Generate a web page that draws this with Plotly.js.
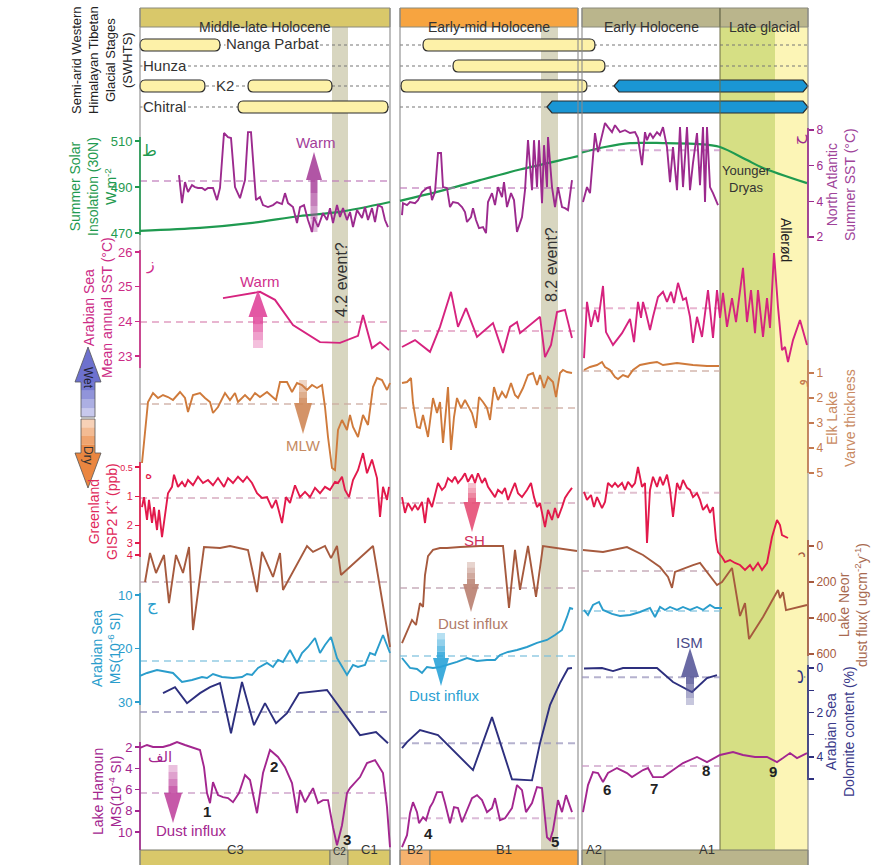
<!DOCTYPE html>
<html><head><meta charset="utf-8">
<script src="https://cdn.plot.ly/plotly-3.0.1.min.js"></script>
<style>html,body{margin:0;padding:0;background:#fff;}#chart{width:872px;height:865px;}</style>
</head><body><div id="chart"></div>
<script>
// ---------------- DATA (age in ka BP) ----------------
const periodNames = ['Middle-late Holocene','Early-mid Holocene','Early Holocene','Late glacial'];
const periodStart = [0.2, 5.4, 9.04, 11.8];
const periodEnd   = [5.2, 8.96, 11.8, 13.56];
const zoneNames = ['C3','C2','C1','B2','B1','A2','A1'];
const zoneStart = [0.2, 4.0, 4.36, 5.4, 6.0, 9.04, 9.5];
const zoneEnd   = [4.0, 4.36, 5.2, 6.0, 8.96, 9.5, 13.56];
const eventStart = [4.04, 8.22, 11.8, 12.9];
const eventEnd   = [4.36, 8.56, 12.9, 13.56];
const boxStart = [0.2, 5.4, 9.04];
const boxEnd   = [5.2, 8.96, 11.8];

const stageNames = ['Nanga Parbat','Hunza','K2','Chitral'];
const stageStart = [[0.2,5.86],[6.46],[0.2,2.36,5.42,9.68],[2.16,8.34]];
const stageEnd   = [[1.8,9.3],[9.5],[1.5,4.04,9.14,13.56],[5.16,13.56]];
const stageKind  = [['y','y'],['y'],['y','y','y','b'],['y','b']];

// Summer solar insolation 30N (W m-2)
const inAge1 = [0.2,1.4,2.4,3.4,4.2,5.2];
const inVal1 = [470.9,472.2,474.3,477.4,479.2,483.5];
const inAge2 = [5.4,6.2,7.0,7.8,8.8,8.96];
const inVal2 = [484.0,488.2,493.0,497.6,502.6,503.4];
const inAge3 = [9.04,9.5,10.0,10.66,11.34,11.8,12.34,12.66,13.54];
const inVal3 = [505.0,507.4,509.1,509.1,508.7,507.4,501.7,498.3,491.7];

// North Atlantic summer SST (°C)
const naAge1 = [0.98,1.04,1.10,1.16,1.24,1.30,1.36,1.44,1.50,1.56,1.66,1.74,1.80,1.88,1.96,2.02,2.10,2.20,2.30,2.36,2.42,2.52,2.60,2.66,2.76,2.86,2.94,3.04,3.10,3.16,3.26,3.34,3.40,3.48,3.56,3.64,3.68,3.76,3.86,3.94,4.00,4.06,4.14,4.20,4.26,4.34,4.40,4.46,4.54,4.64,4.70,4.76,4.84,4.90,4.96,5.04,5.10,5.16];
const naVal1 = [5.47,3.90,5.08,4.52,4.91,4.80,4.75,4.75,4.63,4.75,4.75,4.07,4.75,7.83,7.60,7.55,4.80,4.18,5.19,7.88,7.88,4.07,4.24,3.79,3.68,3.79,3.96,3.85,4.46,3.90,3.68,2.78,3.68,3.79,2.95,2.28,3.12,2.56,3.34,2.95,3.62,2.78,3.79,3.12,3.62,2.95,3.40,2.56,3.51,3.06,3.68,2.95,3.62,2.84,3.79,3.68,2.95,2.56];
const naAge2 = [5.44,5.46,5.54,5.60,5.70,5.76,5.84,5.94,6.00,6.04,6.10,6.16,6.22,6.26,6.34,6.40,6.46,6.56,6.64,6.70,6.74,6.82,6.86,6.92,6.98,7.06,7.12,7.16,7.24,7.30,7.36,7.44,7.48,7.54,7.62,7.68,7.74,7.84,7.90,7.96,8.04,8.08,8.14,8.18,8.24,8.28,8.34,8.36,8.44,8.50,8.56,8.64,8.70,8.76,8.84];
const naVal2 = [3.23,3.90,3.79,3.96,3.90,4.07,4.52,4.75,4.80,4.07,4.52,6.71,6.71,4.80,4.75,3.68,3.96,3.90,3.68,3.40,2.84,3.12,3.62,2.95,2.50,2.56,2.22,3.96,4.46,3.79,4.80,4.24,5.08,3.68,4.46,4.07,2.28,3.12,4.63,7.43,4.63,7.43,4.80,7.43,3.90,7.15,4.80,7.60,4.80,3.68,4.80,3.68,3.62,3.51,5.19];
const naAge3 = [9.06,9.14,9.20,9.26,9.30,9.36,9.44,9.50,9.56,9.64,9.70,9.80,9.90,10.00,10.10,10.16,10.24,10.30,10.34,10.40,10.46,10.54,10.60,10.66,10.74,10.80,10.86,10.94,11.00,11.06,11.14,11.20,11.26,11.34,11.40,11.46,11.50,11.54,11.60,11.66,11.76];
const naVal3 = [3.96,4.80,4.46,6.76,7.83,6.76,7.71,8.39,8.16,7.88,8.27,7.88,7.99,7.83,7.88,7.55,6.03,7.88,7.43,7.83,7.55,7.88,7.71,8.16,7.04,5.08,7.04,4.63,8.16,4.80,8.16,4.63,6.15,7.83,4.91,8.16,3.96,8.16,4.80,4.46,3.79];
const naMean = [5.14,4.75,6.87];

// Arabian Sea mean annual SST (°C)
const asAge1 = [1.86,2.60,2.90,3.26,3.80,4.20,4.56,4.66,4.84,5.00,5.18];
const asVal1 = [24.67,24.85,24.62,23.89,23.40,23.38,23.58,24.18,23.23,23.40,23.17];
const asAge2 = [5.44,5.70,6.00,6.20,6.42,6.56,6.72,6.94,7.10,7.26,7.46,7.60,7.74,7.80,8.20,8.30,8.42,8.54,8.70,8.84];
const asVal2 = [23.26,23.46,23.12,23.84,24.85,23.84,24.38,23.55,23.75,23.95,23.09,23.84,23.98,23.66,24.13,22.97,23.32,24.27,24.33,23.52];
const asAge3 = [9.08,9.14,9.22,9.30,9.36,9.46,9.52,9.66,9.84,10.00,10.08,10.16,10.22,10.26,10.32,10.40,10.46,10.56,10.66,10.74,10.82,10.88,10.96,11.06,11.12,11.20,11.26,11.34,11.44,11.56,11.66,11.74,11.80,11.86,11.94,12.04,12.12,12.26,12.34,12.42,12.50,12.56,12.66,12.74,12.80,12.88,12.96,13.04,13.10,13.16,13.26,13.40,13.54];
const asVal3 = [22.94,24.56,23.84,24.33,23.98,25.02,23.69,23.32,23.66,24.07,23.40,24.56,24.10,24.56,24.24,23.75,24.13,24.70,24.85,24.56,24.85,24.53,25.11,24.62,24.67,24.13,23.38,24.13,23.55,24.90,23.52,24.90,24.10,24.82,23.84,24.67,23.98,25.54,23.98,24.90,23.66,24.90,23.55,24.67,23.81,25.97,24.41,23.17,23.26,22.83,23.46,24.04,23.32];
const asMean = [23.98,23.72,24.38];

// Elk Lake varve thickness
const elkAge1 = [0.24,0.36,0.46,0.56,0.66,0.76,0.86,1.00,1.10,1.16,1.26,1.40,1.50,1.60,1.66,1.76,1.90,2.00,2.10,2.16,2.30,2.40,2.50,2.60,2.74,2.84,2.92,3.00,3.14,3.24,3.34,3.44,3.54,3.64,3.74,3.84,3.90,3.96,4.04,4.10,4.16,4.24,4.34,4.40,4.46,4.56,4.66,4.76,4.86,4.94,5.04,5.14,5.20];
const elkVal1 = [4.60,2.16,1.80,2.00,1.88,1.96,2.08,1.76,2.00,2.56,1.88,1.80,2.00,2.16,2.60,2.36,1.80,2.08,1.80,2.16,1.88,2.08,1.80,1.96,1.76,1.96,2.08,1.36,1.36,1.76,1.40,1.48,1.68,1.48,1.60,1.48,2.36,3.56,4.80,4.88,3.28,2.88,3.28,2.68,3.16,3.56,2.68,3.08,1.56,1.20,1.28,1.68,1.40];
const elkAge2 = [5.44,5.54,5.62,5.66,5.74,5.80,5.86,5.96,6.06,6.14,6.20,6.26,6.32,6.36,6.42,6.48,6.54,6.62,6.70,6.76,6.84,6.92,6.98,7.06,7.14,7.20,7.28,7.36,7.44,7.52,7.62,7.70,7.76,7.86,7.96,8.06,8.14,8.20,8.28,8.36,8.46,8.52,8.60,8.66,8.74,8.84];
const elkVal2 = [1.40,1.36,1.20,2.20,3.16,3.20,2.68,3.56,2.00,2.60,2.16,3.80,2.48,1.56,4.08,2.76,2.00,2.40,2.08,2.28,2.60,3.20,1.96,2.16,2.40,2.88,1.56,2.08,1.76,2.00,1.40,1.88,2.00,1.60,1.08,1.00,1.48,1.08,1.60,1.16,1.36,1.96,1.00,0.88,0.96,1.00];
const elkAge3 = [9.08,9.20,9.34,9.44,9.50,9.60,9.70,9.76,9.86,9.96,10.06,10.20,10.40,10.54,10.66,10.94,11.26,11.54,11.78];
const elkVal3 = [0.88,0.76,0.68,0.56,0.76,0.88,1.16,1.24,1.08,1.16,0.88,0.68,0.60,0.56,0.68,0.60,0.68,0.72,0.72];
const elkMean = [2.24,2.40,0.92];

// Greenland GISP2 K+ (ppb)
const grAge1 = [0.24,0.28,0.34,0.38,0.44,0.48,0.54,0.58,0.64,0.70,0.76,0.84,0.88,0.96,1.04,1.10,1.16,1.26,1.36,1.46,1.56,1.66,1.76,1.88,1.96,2.06,2.16,2.26,2.34,2.44,2.54,2.64,2.74,2.84,2.92,3.04,3.12,3.20,3.30,3.40,3.50,3.60,3.70,3.80,3.90,4.00,4.10,4.16,4.24,4.30,4.38,4.46,4.56,4.66,4.74,4.84,4.94,5.00,5.06,5.14,5.18];
const grVal1 = [1.29,1.02,1.75,1.09,1.88,1.29,2.22,1.38,2.62,1.63,0.93,0.80,0.60,0.80,0.71,0.80,0.68,0.77,0.63,0.73,0.68,0.77,0.65,0.80,0.65,0.73,0.63,0.71,0.63,0.73,0.93,1.04,1.02,1.32,1.09,1.88,1.02,1.17,0.77,1.02,0.90,1.02,0.82,0.93,0.80,0.86,0.71,0.73,0.63,0.86,1.02,0.68,0.54,0.36,0.58,0.42,0.65,1.63,0.80,1.09,0.80];
const grAge2 = [5.44,5.50,5.56,5.64,5.70,5.76,5.84,5.90,5.96,6.04,6.10,6.16,6.24,6.30,6.36,6.44,6.50,6.56,6.64,6.70,6.76,6.84,6.90,6.96,7.04,7.10,7.16,7.24,7.30,7.36,7.44,7.50,7.56,7.64,7.70,7.76,7.84,7.94,8.02,8.08,8.14,8.20,8.26,8.30,8.36,8.44,8.50,8.56,8.64,8.70,8.76,8.84];
const grVal2 = [1.02,1.48,1.17,1.38,1.23,1.38,1.14,1.88,1.04,1.29,0.97,0.73,0.86,0.80,0.65,0.71,0.63,0.73,0.65,0.58,0.71,0.60,0.73,0.58,0.73,0.65,0.80,0.93,1.02,0.86,0.93,0.82,1.09,0.86,0.73,0.93,1.02,0.86,0.73,1.02,1.29,1.17,1.63,2.07,1.38,1.75,1.32,1.67,1.29,1.04,0.93,0.82];
const grAge3 = [9.08,9.14,9.22,9.28,9.34,9.44,9.50,9.56,9.64,9.70,9.76,9.84,9.90,9.96,10.04,10.10,10.16,10.24,10.30,10.34,10.40,10.46,10.54,10.60,10.66,10.74,10.80,10.86,10.94,11.00,11.06,11.14,11.20,11.26,11.34,11.40,11.46,11.54,11.60,11.66,11.72,11.76,11.84,11.90,12.00,12.10,12.20,12.30,12.40,12.46,12.56,12.64,12.74,12.84,12.94,13.00,13.04,13.16];
const grVal3 = [0.90,1.09,0.97,1.29,1.02,1.32,1.14,0.73,0.80,0.73,0.80,0.73,0.86,0.71,0.80,0.73,0.50,0.80,0.73,3.02,0.86,0.63,0.80,0.63,0.77,0.60,0.86,1.63,0.73,0.86,0.68,0.82,0.86,1.02,0.93,1.09,1.38,1.23,1.48,1.29,2.81,3.73,4.20,4.73,4.51,4.84,5.07,5.71,5.07,5.71,4.84,5.71,4.84,2.62,1.75,1.97,2.50,2.68];
const grMean = [1.04,1.17,0.92];

// Lake Neor dust flux
const neAge1 = [0.30,0.40,0.52,0.68,0.78,0.92,1.06,1.18,1.26,1.48,1.80,2.00,2.36,2.54,2.64,2.86,3.00,3.06,3.54,3.66,3.90,4.02,4.14,4.22,4.86,5.20];
const neVal1 = [200,39,150,50,317,50,150,6,467,6,11,0,22,256,33,172,39,244,0,33,0,67,0,161,0,561];
const neAge2 = [5.44,5.54,5.64,5.72,5.80,5.86,5.90,5.96,6.06,6.20,6.34,6.60,7.00,7.46,7.58,7.70,7.80,7.96,8.12,8.26,8.52,8.80,8.94];
const neVal2 = [539,478,411,439,317,339,161,56,22,11,11,6,0,0,344,22,244,0,283,0,11,22,28];
const neAge3 = [9.06,9.46,9.94,10.26,10.60,10.76,10.84,10.90,11.26,11.40,11.74,11.84,12.04,12.20,12.30,12.38,12.66,12.96,13.00,13.06,13.12,13.54];
const neVal3 = [22,33,6,50,117,172,233,144,106,94,217,200,122,389,317,517,394,244,289,256,356,328];
const neMean = [200,233,139];

// Arabian Sea MS (10^-6 SI)
const msAge1 = [0.20,0.34,0.54,0.74,0.86,1.04,1.24,1.44,1.54,1.66,1.84,2.06,2.24,2.34,2.44,2.56,2.74,2.86,2.96,3.06,3.20,3.34,3.44,3.56,3.70,3.80,3.90,4.02,4.14,4.34,4.46,4.56,4.70,4.80,4.90,5.06,5.20];
const msVal1 = [25.14,24.58,24.02,24.39,24.58,26.26,25.89,25.33,25.51,24.77,25.33,25.51,25.33,24.77,24.95,23.64,22.71,23.46,22.15,22.52,20.28,22.71,20.84,19.72,18.04,20.84,19.35,17.85,21.78,24.95,23.08,23.46,23.08,20.84,21.21,17.48,20.84];
const msAge2 = [5.44,5.60,5.74,5.84,5.94,6.06,6.20,6.34,6.54,6.74,6.94,7.14,7.30,7.40,7.56,7.74,7.94,8.14,8.34,8.50,8.64,8.74,8.80,8.86];
const msVal2 = [21.78,23.64,23.83,24.58,23.46,23.64,23.46,23.08,22.52,21.78,22.34,22.15,22.15,21.21,20.65,20.28,19.72,18.97,18.41,17.48,16.54,14.11,12.43,12.62];
const msAge3 = [9.08,9.16,9.26,9.38,9.46,9.64,9.80,10.00,10.20,10.40,10.50,10.60,10.70,10.80,10.94,11.06,11.20,11.34,11.46,11.60,11.70,11.84];
const msVal3 = [12.80,13.74,11.87,11.31,12.80,13.55,13.93,13.74,13.18,12.43,14.11,12.24,12.80,12.24,12.80,12.24,12.80,12.24,12.80,11.87,12.43,12.43];
const msMean = [22.34,21.40,12.99];

// Arabian Sea dolomite content (%)
const doAge1 = [0.66,0.90,1.14,1.40,1.60,1.80,2.02,2.24,2.48,2.70,2.92,3.14,3.38,3.94,4.60,4.92,5.16];
const doVal1 = [1.13,0.86,1.58,1.13,0.86,0.68,2.93,0.63,2.57,1.58,2.48,2.03,1.13,0.99,3.02,2.88,3.38];
const doAge2 = [5.44,5.54,5.80,6.16,6.86,7.24,7.64,8.04,8.20,8.40,8.60,8.76,8.84];
const doVal2 = [3.60,3.33,2.79,3.02,4.59,2.21,5.00,5.05,3.38,1.67,0.68,0.02,0.00];
const doAge3 = [9.08,9.44,9.66,9.86,10.54,10.86,11.24,11.54,11.74];
const doVal3 = [0.02,0.00,0.14,0.00,0.00,0.63,1.08,0.45,0.32];
const doMean = [1.98,3.38,0.41];

// Lake Hamoun MS (10^-4 SI)
const haAge1 = [0.20,0.34,0.46,0.66,0.80,0.94,1.10,1.26,1.40,1.48,1.54,1.60,1.66,1.76,1.86,1.96,2.06,2.18,2.30,2.40,2.54,2.66,2.80,2.96,3.10,3.24,3.34,3.40,3.50,3.66,3.76,3.86,3.96,4.06,4.14,4.24,4.34,4.40,4.60,4.74,4.90,5.06,5.14,5.20];
const haVal1 = [2.09,1.81,2.00,2.00,1.81,1.53,1.81,2.09,2.28,3.89,6.34,7.28,5.30,6.53,6.72,6.81,7.19,6.34,4.64,5.11,8.23,4.45,2.28,2.94,3.89,5.40,8.23,6.06,7.19,5.87,7.28,7.00,7.00,9.55,11.25,9.36,6.34,5.87,4.83,3.51,3.23,4.45,7.66,11.43];
const haAge2 = [5.44,5.54,5.60,5.66,5.74,5.78,5.86,5.92,6.00,6.06,6.14,6.24,6.30,6.40,6.48,6.56,6.64,6.74,6.84,6.94,7.04,7.14,7.24,7.30,7.40,7.50,7.64,7.74,7.84,7.92,8.04,8.14,8.24,8.34,8.40,8.46,8.56,8.64,8.72,8.84];
const haVal2 = [11.43,10.30,8.23,7.19,8.13,9.17,8.60,8.89,7.66,7.19,6.25,6.25,7.28,9.17,7.66,7.75,9.08,7.94,6.81,6.53,7.00,8.13,7.75,6.81,8.89,8.70,7.75,5.58,6.06,8.13,7.28,5.77,5.87,10.49,10.77,9.83,7.00,8.13,6.53,8.13];
const haAge3 = [9.06,9.16,9.26,9.36,9.46,9.56,9.74,9.94,10.04,10.26,10.36,10.46,10.66,10.86,11.06,11.34,11.54,11.80,12.06,12.26,12.50,12.74,12.94,13.06,13.20,13.34,13.54];
const haVal3 = [8.13,5.58,4.36,4.45,5.30,4.45,3.98,4.45,4.83,4.17,3.98,4.83,4.83,4.17,3.51,2.94,3.42,2.75,2.47,2.75,2.94,2.94,3.42,3.04,2.57,3.04,2.57];
const haMean = [6.34,8.70,3.79];

const numLabels = ['1','2','3','4','5','6','7','8','9'];

// ---------------- HELPERS ----------------
const FONT = '"Liberation Sans", Arial, Helvetica, sans-serif';
const AFONT = '"DejaVu Sans", "Noto Sans", sans-serif';
const W0 = 138, PW = 672, PH = 865;
const PX = p => (p - W0) / PW;
const PY = p => 1 - p / PH;
const dom = (top, bot) => [PY(bot), PY(top)];
const POS_L = PX(140), POS_R = PX(808);
const join3 = (a, b, c) => a.concat([null], b, [null], c);

function line(ax, ay, yaxis, color, extra) {
  return Object.assign({x: ax, y: ay, xaxis: 'x', yaxis: yaxis, mode: 'lines', connectgaps: false,
    line: {color: color, width: 1.9}, hoverinfo: 'skip'}, extra || {});
}
function meanTrace(means, yaxis, color) {
  const x = [], y = [];
  for (let i = 0; i < 3; i++) { x.push(boxStart[i], boxEnd[i], null); y.push(means[i], means[i], null); }
  return {x: x, y: y, xaxis: 'x', yaxis: yaxis, mode: 'lines', line: {color: color, width: 2, dash: '7px,5px'}, hoverinfo: 'skip'};
}
function yAx(color, top, bot, range, tickvals, side, extra) {
  return Object.assign({domain: dom(top, bot), range: range, tickmode: 'array', tickvals: tickvals,
    anchor: 'free', position: side === 'left' ? POS_L : POS_R, side: side,
    showline: false, showgrid: false, zeroline: false, ticks: 'outside', ticklen: 5, tickwidth: 1.5,
    tickcolor: color, tickfont: {color: color, size: side === 'left' ? 13 : 12, family: FONT}, fixedrange: true}, extra || {});
}
function spine(side, top, bot, color) {
  const x = side === 'left' ? POS_L : POS_R;
  return {type: 'line', xref: 'paper', yref: 'paper', x0: x, x1: x, y0: PY(top), y1: PY(bot),
    line: {color: color, width: 1.6}, layer: 'above'};
}
function T(text, px, py, o) {
  o = o || {};
  const a = {text: text, x: PX(px), y: PY(py), xref: 'paper', yref: 'paper', showarrow: false,
    xanchor: o.xa || 'center', yanchor: o.ya || 'middle', textangle: o.rot || 0, align: o.align || 'center',
    font: {family: o.family || FONT, size: o.size || 13, color: o.color || '#333'}};
  if (o.bg) { a.bgcolor = o.bg; a.borderpad = 0; }
  return a;
}
function arrow(cx, tail, tip, hw, sw, hl, color, outline) {
  const dir = tip < tail ? 1 : -1;
  const hb = tip + dir * hl;
  const out = [];
  const n = 4;
  for (let i = 0; i < n; i++) {
    const a = hb + (tail - hb) * i / n, b = hb + (tail - hb) * (i + 1) / n;
    const pts = [[cx - sw, a], [cx - sw, b], [cx + sw, b], [cx + sw, a]];
    out.push({type: 'path', xref: 'paper', yref: 'paper', layer: 'above',
      path: 'M' + pts.map(p => PX(p[0]) + ',' + PY(p[1])).join(' L') + ' Z',
      fillcolor: color, opacity: 0.85 - 0.17 * i, line: {width: 0}});
  }
  const head = [[cx - hw, hb], [cx, tip], [cx + hw, hb]];
  out.push({type: 'path', xref: 'paper', yref: 'paper', layer: 'above',
    path: 'M' + head.map(p => PX(p[0]) + ',' + PY(p[1])).join(' L') + ' Z',
    fillcolor: color, opacity: 0.9, line: {width: 0}});
  if (outline) {
    const pts = [[cx - sw, tail], [cx - sw, hb], [cx - hw, hb], [cx, tip], [cx + hw, hb], [cx + sw, hb], [cx + sw, tail]];
    out.push({type: 'path', xref: 'paper', yref: 'paper', layer: 'above',
      path: 'M' + pts.map(p => PX(p[0]) + ',' + PY(p[1])).join(' L') + ' Z',
      line: {color: outline, width: 0.8}});
  }
  return out;
}

// ---------------- COLORS ----------------
const C = {
  ins: '#1f9a50', na: '#9c2a8e', as: '#d6237f', elk: '#cf7a3b', gr: '#e2194b',
  ne: '#a65a3e', ms: '#2a9dcc', dol: '#2d2f7e', ha: '#a3268f'
};
const periodColors = ['#d9c86a', '#f7a440', '#bab58c', '#bab58c'];
const zoneColors = ['#d9c86a', '#c4c0a2', '#d9c86a', '#f5b26e', '#f7a440', '#bab58c', '#bab58c'];
const eventColors = ['#d8d6c0', '#d8d6c0', '#d6df84', '#fcf5b6'];

// ---------------- TRACES ----------------
const traces = [
  meanTrace(naMean, 'y2', 'rgba(190,120,185,0.6)'),
  meanTrace(asMean, 'y3', 'rgba(214,120,170,0.55)'),
  meanTrace(elkMean, 'y4', 'rgba(205,170,160,0.65)'),
  meanTrace(grMean, 'y5', 'rgba(205,150,175,0.6)'),
  meanTrace(neMean, 'y6', 'rgba(190,160,175,0.65)'),
  meanTrace(msMean, 'y7', 'rgba(120,190,220,0.6)'),
  meanTrace(doMean, 'y8', 'rgba(150,145,185,0.7)'),
  meanTrace(haMean, 'y9', 'rgba(200,150,195,0.65)'),
  line(join3(inAge1, inAge2, inAge3), join3(inVal1, inVal2, inVal3), 'y', C.ins, {line: {color: C.ins, width: 2.2, shape: 'spline', smoothing: 0.8}}),
  line(join3(naAge1, naAge2, naAge3), join3(naVal1, naVal2, naVal3), 'y2', C.na),
  line(join3(asAge1, asAge2, asAge3), join3(asVal1, asVal2, asVal3), 'y3', C.as),
  line(join3(elkAge1, elkAge2, elkAge3), join3(elkVal1, elkVal2, elkVal3), 'y4', C.elk),
  line(join3(grAge1, grAge2, grAge3), join3(grVal1, grVal2, grVal3), 'y5', C.gr),
  line(join3(neAge1, neAge2, neAge3), join3(neVal1, neVal2, neVal3), 'y6', C.ne),
  line(join3(msAge1, msAge2, msAge3), join3(msVal1, msVal2, msVal3), 'y7', C.ms),
  line(join3(doAge1, doAge2, doAge3), join3(doVal1, doVal2, doVal3), 'y8', C.dol),
  line(join3(haAge1, haAge2, haAge3), join3(haVal1, haVal2, haVal3), 'y9', C.ha)
];

// ---------------- SHAPES ----------------
const shapes = [];
for (let i = 0; i < eventStart.length; i++) {
  shapes.push({type: 'rect', xref: 'x', yref: 'paper', x0: eventStart[i], x1: eventEnd[i], y0: PY(850), y1: PY(27),
    fillcolor: eventColors[i], line: {width: 0}, layer: 'below'});
}
for (let i = 0; i < periodNames.length; i++) {
  shapes.push({type: 'rect', xref: 'x', yref: 'paper', x0: periodStart[i], x1: periodEnd[i], y0: PY(27), y1: PY(8),
    fillcolor: periodColors[i], line: {color: '#8a8a7a', width: 1}, layer: 'below'});
}
for (let i = 0; i < zoneNames.length; i++) {
  shapes.push({type: 'rect', xref: 'x', yref: 'paper', x0: zoneStart[i], x1: zoneEnd[i], y0: PY(866), y1: PY(850),
    fillcolor: zoneColors[i], line: {color: '#7a7a6a', width: 1}, layer: 'below'});
}
const rowY = [45, 66, 86, 107];
for (let r = 0; r < 4; r++) {
  for (let b = 0; b < 3; b++) {
    shapes.push({type: 'line', xref: 'x', yref: 'paper', x0: boxStart[b], x1: b === 2 ? 13.56 : boxEnd[b], y0: PY(rowY[r]), y1: PY(rowY[r]),
      line: {color: '#777', width: 1.2, dash: 'dot'}, layer: 'below'});
  }
}
for (let r = 0; r < 4; r++) {
  for (let k = 0; k < stageStart[r].length; k++) {
    const x0 = stageStart[r][k], x1 = stageEnd[r][k], kind = stageKind[r][k];
    const yt = PY(rowY[r] - 6), yb = PY(rowY[r] + 6), yc = PY(rowY[r]);
    const d = 0.1;
    let path;
    if (kind === 'y') {
      path = `M${x0 + d},${yt} L${x1 - d},${yt} Q${x1},${yt} ${x1},${yc} Q${x1},${yb} ${x1 - d},${yb} L${x0 + d},${yb} Q${x0},${yb} ${x0},${yc} Q${x0},${yt} ${x0 + d},${yt} Z`;
    } else {
      path = `M${x0},${yc} L${x0 + d},${yt} L${x1 - d},${yt} L${x1},${yc} L${x1 - d},${yb} L${x0 + d},${yb} Z`;
    }
    shapes.push({type: 'path', xref: 'x', yref: 'paper', path: path,
      fillcolor: kind === 'y' ? '#fdf1a8' : '#1a96d4', line: {color: '#2b2b2b', width: 1.2}, layer: 'below'});
  }
}
[0.2, 5.2, 5.4, 8.96, 9.04, 13.56].forEach(x => shapes.push({type: 'line', xref: 'x', yref: 'paper', x0: x, x1: x,
  y0: PY(866), y1: PY(8), line: {color: '#8a8a8a', width: 1.1}, layer: 'below'}));
shapes.push({type: 'line', xref: 'x', yref: 'paper', x0: 11.8, x1: 11.8, y0: PY(850), y1: PY(8), line: {color: '#6d6d45', width: 1}, layer: 'below'});
shapes.push(spine('left', 137, 235, C.ins));
shapes.push(spine('right', 128, 238, C.na));
shapes.push(spine('left', 250, 368, '#cc2b86'));
shapes.push(spine('right', 360, 473, '#c47a50'));
shapes.push(spine('left', 462, 557, C.gr));
shapes.push(spine('right', 540, 656, C.ne));
shapes.push(spine('left', 593, 705, C.ms));
shapes.push(spine('right', 665, 780, C.dol));
shapes.push(spine('left', 742, 850, C.ha));
[].concat(
  arrow(314, 232, 152, 8, 3.5, 28, '#a9439b'),
  arrow(258, 348, 290, 9.5, 5, 27, '#e0459a'),
  arrow(303, 380, 434, 9, 4, 31, '#cf8757'),
  arrow(472, 483, 532, 8.5, 4, 30, '#e54e75'),
  arrow(471, 562, 612, 8, 4, 28, '#b98070'),
  arrow(441, 633, 686, 8, 4, 28, '#2aa3d8'),
  arrow(690, 705, 648, 9, 4, 29, '#5a5a9a'),
  arrow(173, 765, 823, 9, 4.5, 30, '#c0479f'),
  arrow(88, 417, 347, 13, 7, 35, '#5d62c9', '#555'),
  arrow(88, 419, 488, 13, 7, 35, '#e8792b', '#555')
).forEach(s => shapes.push(s));

// ---------------- ANNOTATIONS ----------------
const ann = [];
for (let i = 0; i < periodNames.length; i++) {
  ann.push({text: periodNames[i], x: (periodStart[i] + periodEnd[i]) / 2, y: PY(17.5), xref: 'x', yref: 'paper',
    showarrow: false, font: {family: FONT, size: 14, color: '#333'}});
}
for (let i = 0; i < zoneNames.length; i++) {
  ann.push({text: zoneNames[i], x: (zoneStart[i] + zoneEnd[i]) / 2, y: PY(859), xref: 'x', yref: 'paper',
    showarrow: false, font: {family: FONT, size: i === 1 ? 10 : 13, color: '#333'}});
}
ann.push(T(stageNames[0], 225, 44, {xa: 'left', size: 15, bg: '#ffffff', color: '#333'}));
ann.push(T(stageNames[1], 142, 65, {xa: 'left', size: 15, bg: '#ffffff', color: '#333'}));
ann.push(T(stageNames[2], 215, 85, {xa: 'left', size: 15, bg: '#ffffff', color: '#333'}));
ann.push(T(stageNames[3], 142, 106, {xa: 'left', size: 15, bg: '#ffffff', color: '#333'}));
ann.push(T('Semi-arid Western<br>Himalayan Tibetan<br>Glacial Stages<br>(SWHTS)', 102, 60, {rot: -90, size: 13, color: '#222'}));
ann.push(T('Summer Solar<br>Insolation (30N)<br>W.m<sup>-2</sup>', 93, 187, {rot: -90, size: 14, color: C.ins}));
ann.push(T('Arabian Sea<br>Mean annual SST (°C)', 98, 308, {rot: -90, size: 14, color: '#cc2b86'}));
ann.push(T('Greenland<br>GISP2 K<sup>+</sup> (ppb)', 103, 512, {rot: -90, size: 14, color: '#e0285a'}));
ann.push(T('Arabian Sea<br>MS(10<sup>-6</sup> SI)', 106, 649, {rot: -90, size: 14, color: C.ms}));
ann.push(T('Lake Hamoun<br>MS(10<sup>-4</sup> SI)', 107, 792, {rot: -90, size: 14, color: C.ha}));
ann.push(T('North Atlantic<br>Summer SST (°C)', 841, 185, {rot: -90, size: 14, color: '#a0449a'}));
ann.push(T('Elk Lake<br>Varve thickness', 841, 418, {rot: -90, size: 14, color: '#c98a62'}));
ann.push(T('Lake Neor<br>dust flux( ugcm<sup>-2</sup>y<sup>-1</sup>)', 853, 605, {rot: -90, size: 14, color: '#a86a50'}));
ann.push(T('Arabian Sea<br>Dolomite content (%)', 840, 732, {rot: -90, size: 14, color: '#3a3a8a'}));
ann.push(T('Warm', 315, 143, {size: 15, color: '#a3409a'}));
ann.push(T('Warm', 259, 282, {size: 15, color: '#d0308d'}));
ann.push(T('MLW', 303, 446, {size: 15, color: '#c58a62'}));
ann.push(T('SH', 474, 540, {size: 15, color: '#d0305e'}));
ann.push(T('Dust influx', 473, 623, {size: 15, color: '#b07a68'}));
ann.push(T('Dust influx', 444, 695, {size: 15, color: '#2aa0d2'}));
ann.push(T('ISM', 689, 642, {size: 15, color: '#4a4a8a'}));
ann.push(T('Dust influx', 191, 830, {size: 15, color: C.ha}));
ann.push(T('4.2 event?', 341, 280, {rot: -90, size: 16, color: '#333'}));
ann.push(T('8.2 event?', 551, 265, {rot: -90, size: 16, color: '#333'}));
ann.push(T('Younger<br>Dryas', 746, 179, {size: 13, color: '#333'}));
ann.push(T('Allerød', 786, 240, {rot: 90, size: 14, color: '#222'}));
ann.push(T('Wet', 88, 378, {rot: 90, size: 12, color: '#223'}));
ann.push(T('Dry', 88, 455, {rot: 90, size: 12, color: '#333'}));
const numPos = [[207, 811], [274, 766], [347, 839], [428, 833], [555, 841], [607, 789], [654, 788], [706, 770], [773, 771]];
numLabels.forEach((t, i) => ann.push(T('<b>' + t + '</b>', numPos[i][0], numPos[i][1], {size: 15, color: '#222'})));
ann.push(T('ط', 149, 150, {size: 16, color: C.ins, family: AFONT}));
ann.push(T('ح', 798, 140, {size: 16, color: C.na, rot: -90, family: AFONT}));
ann.push(T('ز', 150, 264, {size: 16, color: '#d0308d', family: AFONT}));
ann.push(T('و', 800, 383, {size: 15, color: '#c47a50', rot: -90, family: AFONT}));
ann.push(T('ه', 148, 474, {size: 14, color: C.gr, family: AFONT}));
ann.push(T('د', 800, 555, {size: 15, color: C.ne, rot: -90, family: AFONT}));
ann.push(T('ج', 152, 605, {size: 16, color: C.ms, family: AFONT}));
ann.push(T('ب', 797, 677, {size: 16, color: C.dol, rot: -90, family: AFONT}));
ann.push(T('الف', 160, 757, {size: 15, color: C.ha, family: AFONT}));

// ---------------- LAYOUT ----------------
const layout = {
  width: 872, height: 865, margin: {l: W0, r: 872 - W0 - PW, t: 0, b: 0},
  paper_bgcolor: '#ffffff', plot_bgcolor: 'rgba(0,0,0,0)', showlegend: false, hovermode: false,
  font: {family: FONT},
  xaxis: {domain: [0, 1], range: [0.16, 13.6], visible: false, fixedrange: true, anchor: 'y'},
  yaxis: yAx(C.ins, 118, 240, [466.96, 520.0], [470, 490, 510], 'left'),
  yaxis2: yAx(C.na, 118, 240, [1.832, 8.673], [2, 4, 6, 8], 'right'),
  yaxis3: yAx('#cc2b86', 245, 372, [22.54, 26.2], [23, 24, 25, 26], 'left'),
  yaxis4: yAx('#c47a50', 355, 478, [5.2, 0.28], [1, 2, 3, 4, 5], 'right'),
  yaxis5: yAx(C.gr, 450, 582, [0.8799, -0.4754], [0.5, 1, 2, 3, 4], 'left',
    {type: 'log', ticktext: ['<span style="font-size:9px">0.5</span>', '1', '2', '3', '4'],
     tickfont: {color: C.gr, size: 11, family: FONT}}),
  yaxis6: yAx(C.ne, 538, 660, [633.3, -44.4], [0, 200, 400, 600], 'right'),
  yaxis7: yAx(C.ms, 590, 710, [31.5, 9.07], [10, 20, 30], 'left'),
  yaxis8: yAx(C.dol, 660, 785, [5.26, -0.36], [0, 2, 4], 'right',
    {minor: {tickmode: 'array', tickvals: [1, 3, 5], ticks: 'outside', ticklen: 5, tickwidth: 1.5, tickcolor: C.dol, showgrid: false}}),
  yaxis9: yAx(C.ha, 738, 852, [11.88, 1.153], [2, 4, 6, 8, 10], 'left'),
  shapes: shapes,
  annotations: ann
};

Plotly.newPlot('chart', traces, layout, {staticPlot: true, displayModeBar: false});
</script>
</body></html>
